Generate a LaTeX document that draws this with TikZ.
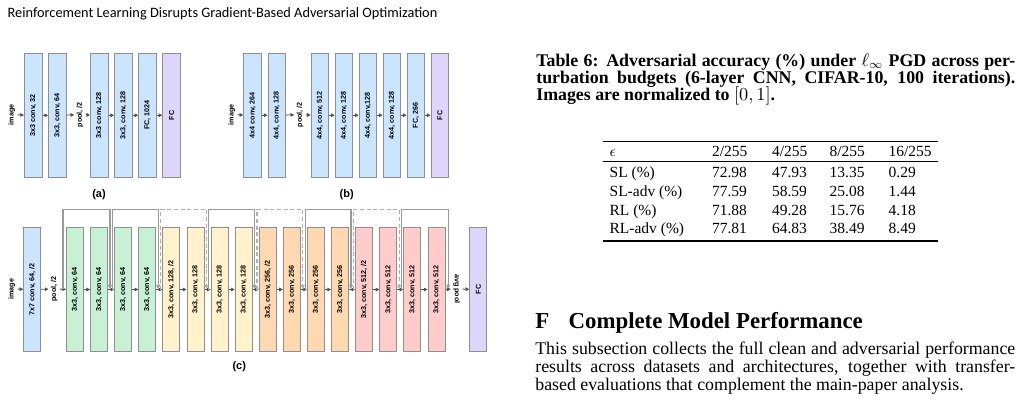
\documentclass[tikz,border=0pt]{standalone}
\usepackage{fontspec}
\setmainfont{Liberation Serif}
\newfontfamily\dgfont{Liberation Sans}
\newfontfamily\hdfont{Carlito}
\usetikzlibrary{arrows.meta,calc}
\definecolor{cblue}{HTML}{CCE5FF}
\definecolor{cgreen}{HTML}{C8F0D4}
\definecolor{cyellow}{HTML}{FFF2CC}
\definecolor{corange}{HTML}{FDD8B0}
\definecolor{cpink}{HTML}{FFCCCC}
\definecolor{cpurple}{HTML}{DDD6FA}
\definecolor{bordergray}{HTML}{8F8F8F}
\definecolor{arrowgray}{HTML}{505050}
\definecolor{skipgray}{HTML}{9A9A9A}
\definecolor{skipdashgray}{HTML}{B0B0B0}
\newcommand{\dgf}{\dgfont\bfseries\fontsize{4.3}{5}\selectfont}
\begin{document}
\begin{tikzpicture}[x=0.6pt,y=-0.6pt,
  box/.style={draw=bordergray, line width=0.6pt, anchor=north west, inner sep=0pt,
    minimum width=10.5pt, minimum height=74.7pt, font=\dgf},
  cbox/.style={box, minimum width=10.2pt, minimum height=74.4pt},
  lbl/.style={inner sep=1.3pt, font=\dgf},
  arr/.style={draw=arrowgray, line width=0.55pt, -{Triangle[length=2.2pt,width=2.2pt]}},
  skipline/.style={draw=skipgray, line width=0.75pt, -{Triangle[length=2.4pt,width=2.4pt]}},
  skipdash/.style={skipline, draw=skipdashgray, dash pattern=on 2.4pt off 1.6pt},
  sublbl/.style={inner sep=0pt, font=\dgfont\bfseries\fontsize{6.6}{8}\selectfont},
  txt/.style={anchor=base west, inner sep=0pt},
]
\useasboundingbox (0,0) rectangle (1024,408);

% running header
\node[txt] (hdr) at (7.3,17) {\hdfont\fontsize{8.6}{10}\selectfont Reinforcement Learning Disrupts Gradient-Based Adversarial Optimization};

% ---------------- (a)
\node[lbl] (ai) at (11.7,114.75) {\rotatebox{90}{image}};
\node[box,fill=cblue] (a1) at (24,52.5) {\rotatebox{90}{3x3 conv, 32}};
\node[box,fill=cblue] (a2) at (48.2,52.5) {\rotatebox{90}{3x3, conv, 64}};
\node[lbl] (ap) at (80,114.75) {\rotatebox{90}{pool, /2}};
\node[box,fill=cblue] (a3) at (90,52.5) {\rotatebox{90}{3x3 conv, 128}};
\node[box,fill=cblue] (a4) at (114.1,52.5) {\rotatebox{90}{3x3, conv, 128}};
\node[box,fill=cblue] (a5) at (138.2,52.5) {\rotatebox{90}{FC, 1024}};
\node[box,fill=cpurple] (a6) at (162.3,52.5) {\rotatebox{90}{FC}};
\draw[arr] (ai) -- (a1);
\draw[arr] (a1) -- (a2);
\draw[arr] (a2) -- (ap);
\draw[arr] (ap) -- (a3);
\draw[arr] (a3) -- (a4);
\draw[arr] (a4) -- (a5);
\draw[arr] (a5) -- (a6);
\node[sublbl] (la) at (99,195) {(a)};

% ---------------- (b)
\node[lbl] (bi) at (231.7,114.75) {\rotatebox{90}{image}};
\node[box,fill=cblue] (b1) at (243.3,52.5) {\rotatebox{90}{4x4 conv, 264}};
\node[box,fill=cblue] (b2) at (267.5,52.5) {\rotatebox{90}{4x4, conv, 128}};
\node[lbl] (bp) at (300,114.75) {\rotatebox{90}{pool, /2}};
\node[box,fill=cblue] (b3) at (310.7,52.5) {\rotatebox{90}{4x4, conv, 512}};
\node[box,fill=cblue] (b4) at (334.7,52.5) {\rotatebox{90}{4x4, conv, 128}};
\node[box,fill=cblue] (b5) at (358.7,52.5) {\rotatebox{90}{4x4, conv,128}};
\node[box,fill=cblue] (b6) at (382.7,52.5) {\rotatebox{90}{4x4, conv, 128}};
\node[box,fill=cblue] (b7) at (406.7,52.5) {\rotatebox{90}{FC, 266}};
\node[box,fill=cpurple] (b8) at (430.7,52.5) {\rotatebox{90}{FC}};
\draw[arr] (bi) -- (b1);
\draw[arr] (b1) -- (b2);
\draw[arr] (b2) -- (bp);
\draw[arr] (bp) -- (b3);
\draw[arr] (b3) -- (b4);
\draw[arr] (b4) -- (b5);
\draw[arr] (b5) -- (b6);
\draw[arr] (b6) -- (b7);
\draw[arr] (b7) -- (b8);
\node[sublbl] (lb) at (346.7,195) {(b)};

% ---------------- (c)
\node[lbl] (ci) at (11.7,289) {\rotatebox{90}{image}};
\node[cbox,fill=cblue] (c1) at (23.3,227) {\rotatebox{90}{7x7 conv, 64, /2}};
\node[lbl] (cp) at (54.3,289) {\rotatebox{90}{pool, /2}};
\foreach \i/\col/\t in {2/cgreen/{3x3, conv, 64},3/cgreen/{3x3, conv, 64},4/cgreen/{3x3, conv, 64},5/cgreen/{3x3, conv, 64},
  6/cyellow/{3x3, conv, 128, /2},7/cyellow/{3x3, conv, 128},8/cyellow/{3x3, conv, 128},9/cyellow/{3x3, conv, 128},
  10/corange/{3x3, conv, 256, /2},11/corange/{3x3, conv, 256},12/corange/{3x3, conv, 256},13/corange/{3x3, conv, 256},
  14/cpink/{3x3, conv, 512, /2},15/cpink/{3x3, conv, 512},16/cpink/{3x3, conv, 512},17/cpink/{3x3, conv, 512}}{
  \pgfmathsetmacro\xx{66+24.1*(\i-2)}
  \node[cbox,fill=\col] (c\i) at (\xx,227) {\rotatebox{90}{\t}};
}
\node[lbl] (cavg) at (456.7,289) {\rotatebox{-90}{avg pool}};
\node[cbox,fill=cpurple] (cfc) at (469.3,227) {\rotatebox{90}{FC}};

\draw[arr] (ci) -- (c1);
\draw[arr] (c1) -- (cp);
\draw[arr] (cp) -- (c2);
\foreach \i [evaluate=\i as \n using int(\i+1)] in {2,...,16}{
  \draw[arr] (c\i) -- (c\n);
}
\draw[arr] (c17) -- (cavg);
\draw[arr] (cavg) -- (cfc);

% junctions
\coordinate (j0) at ($(cp.east)!0.5!(c2.west)$);
\coordinate (j1) at ($(c3.east)!0.5!(c4.west)$);
\coordinate (j2) at ($(c5.east)!0.5!(c6.west)$);
\coordinate (j3) at ($(c7.east)!0.5!(c8.west)$);
\coordinate (j4) at ($(c9.east)!0.5!(c10.west)$);
\coordinate (j5) at ($(c11.east)!0.5!(c12.west)$);
\coordinate (j6) at ($(c13.east)!0.5!(c14.west)$);
\coordinate (j7) at ($(c15.east)!0.5!(c16.west)$);
\coordinate (j8) at ($(c17.east)!0.5!(cavg.west)$);

\draw[skipline] (j0) |- ($(j1)+(-1.2,-80)$) -- ($(j1)+(-1.2,-0.6)$);
\draw[skipline] ($(j1)+(1.2,0)$) |- ($(j2)+(-1.2,-80)$) -- ($(j2)+(-1.2,-0.6)$);
\draw[skipdash] ($(j2)+(1.2,0)$) |- ($(j3)+(-1.2,-80)$) -- ($(j3)+(-1.2,-0.6)$);
\draw[skipline] ($(j3)+(1.2,0)$) |- ($(j4)+(-1.2,-80)$) -- ($(j4)+(-1.2,-0.6)$);
\draw[skipdash] ($(j4)+(1.2,0)$) |- ($(j5)+(-1.2,-80)$) -- ($(j5)+(-1.2,-0.6)$);
\draw[skipline] ($(j5)+(1.2,0)$) |- ($(j6)+(-1.2,-80)$) -- ($(j6)+(-1.2,-0.6)$);
\draw[skipdash] ($(j6)+(1.2,0)$) |- ($(j7)+(-1.2,-80)$) -- ($(j7)+(-1.2,-0.6)$);
\draw[skipline] ($(j7)+(1.2,0)$) |- ($(j8)+(0,-80)$) -- ($(j8)+(0,-0.6)$);
\node[sublbl] (lc) at (239.3,367) {(c)};

% ---------------- caption
\node[txt] (cap1) at (536,66) {\fontsize{10.7}{12}\selectfont\makebox[287.4pt][s]{\bfseries Table 6: Adversarial accuracy (\%) under $\ell_\infty$ PGD across per-}};
\node[txt] (cap2) at (536,83) {\fontsize{10.7}{12}\selectfont\makebox[287.4pt][s]{\bfseries turbation budgets (6-layer CNN, CIFAR-10, 100 iterations).}};
\node[txt] (cap3) at (536,100) {\fontsize{10.7}{12}\selectfont\bfseries Images are normalized to $[0,1]$.};

% ---------------- table
\draw[line width=0.8pt] (603.3,141.7) -- (938.3,141.7);
\draw[line width=0.5pt] (603.3,161.7) -- (938.3,161.7);
\draw[line width=0.8pt] (603.3,241) -- (938.3,241);
\begin{scope}[every node/.style={txt, font=\fontsize{9.3}{11}\selectfont}]
\node (h0) at (609.3,156.5) {$\epsilon$};
\node (h1) at (711.7,156.5) {2/255};
\node (h2) at (771.7,156.5) {4/255};
\node (h3) at (829.3,156.5) {8/255};
\node (h4) at (888.3,156.5) {16/255};
\foreach \lab/\va/\vb/\vc/\vd/\yy [count=\r] in {
  {SL (\%)}/72.98/47.93/13.35/0.29/177.5,
  {SL-adv (\%)}/77.59/58.59/25.08/1.44/196.5,
  {RL (\%)}/71.88/49.28/15.76/4.18/215,
  {RL-adv (\%)}/77.81/64.83/38.49/8.49/233.5}{
  \node (r\r c0) at (609.3,\yy) {\lab};
  \node (r\r c1) at (711.7,\yy) {\va};
  \node (r\r c2) at (771.7,\yy) {\vb};
  \node (r\r c3) at (829.3,\yy) {\vc};
  \node (r\r c4) at (888.3,\yy) {\vd};
}
\end{scope}

% ---------------- section
\node[txt] (secF) at (535,328.7) {\fontsize{13.7}{16}\selectfont\bfseries F};
\node[txt] (secT) at (568.3,328.7) {\fontsize{13.7}{16}\selectfont\bfseries Complete Model Performance};
\node[txt] (body1) at (535,354) {\fontsize{10.7}{12}\selectfont\makebox[288pt][s]{This subsection collects the full clean and adversarial performance}};
\node[txt] (body2) at (535,372) {\fontsize{10.7}{12}\selectfont\makebox[288pt][s]{results across datasets and architectures, together with transfer-}};
\node[txt] (body3) at (535,390) {\fontsize{10.7}{12}\selectfont based evaluations that complement the main-paper analysis.};
\end{tikzpicture}
\end{document}
